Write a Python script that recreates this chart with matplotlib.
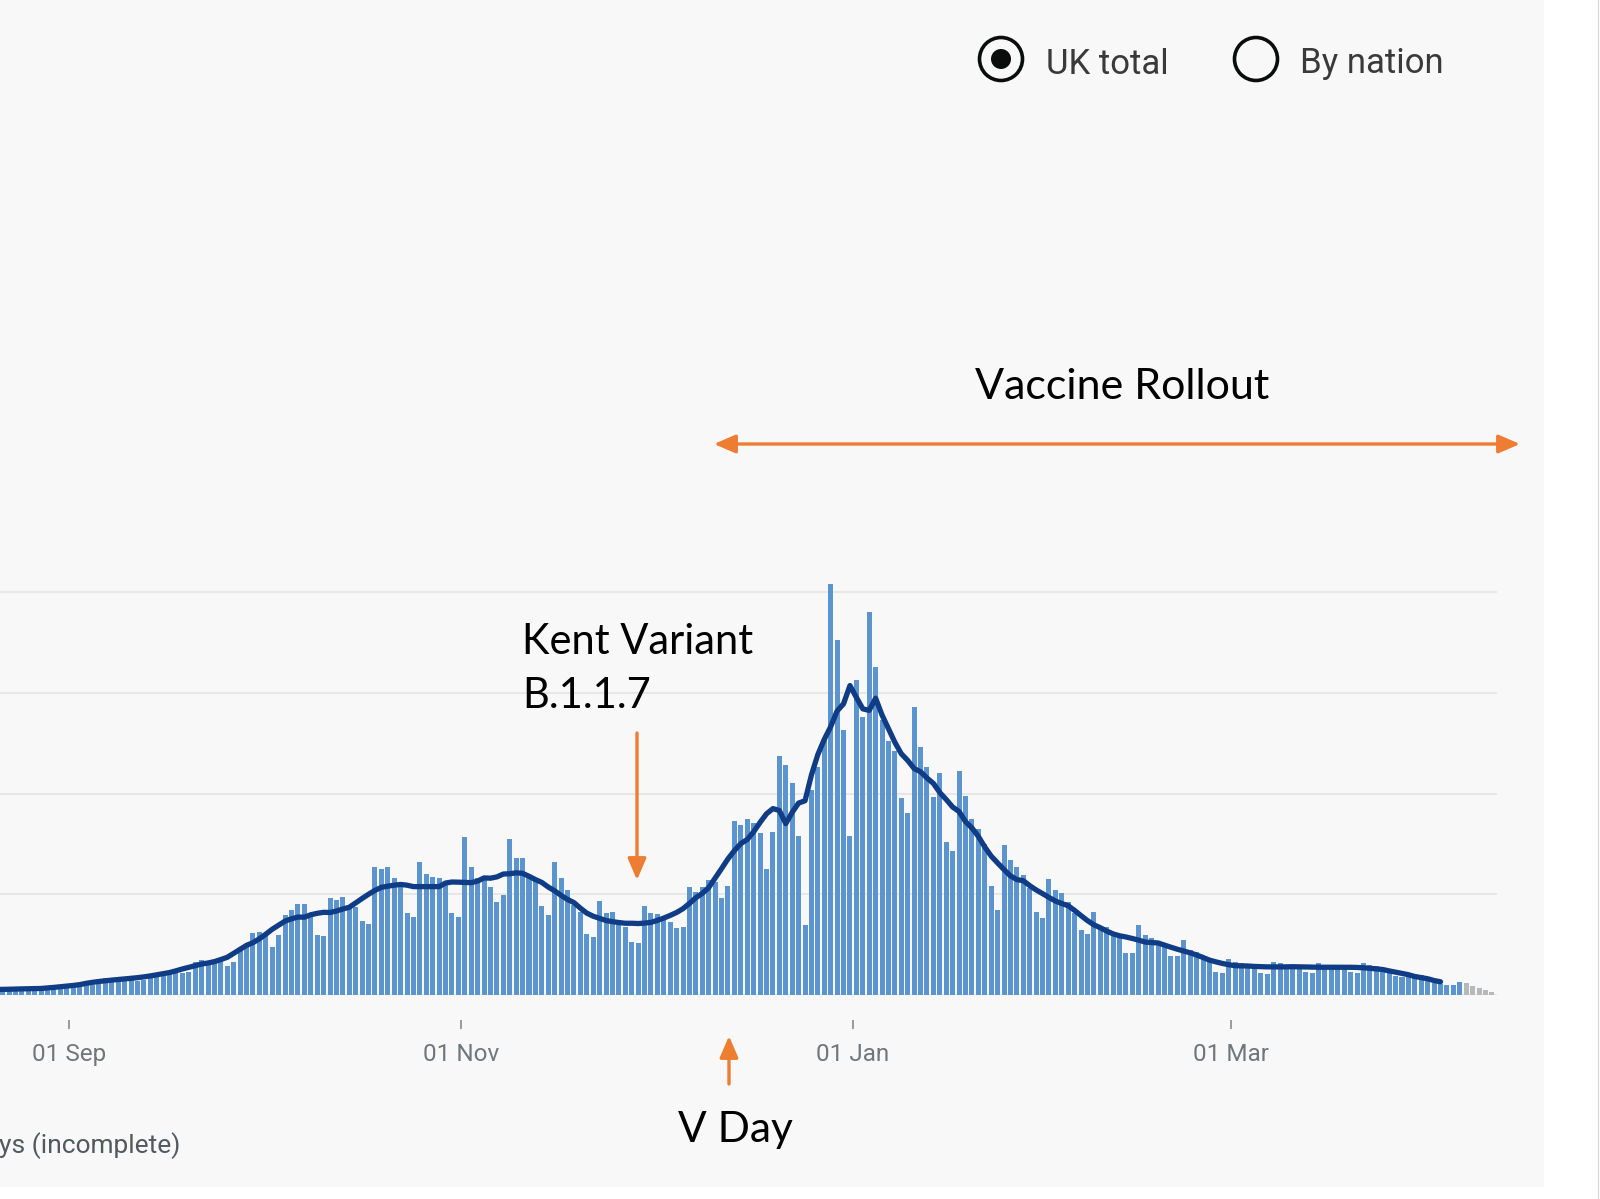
import numpy as np
import pandas as pd
import matplotlib
matplotlib.use("Agg")
import matplotlib.pyplot as plt
import matplotlib.dates as mdates
from matplotlib.patches import Rectangle, Circle, FancyArrowPatch

# ---------------- data (daily values) ----------------
start_date = "2020-08-18"
daily_cases = [
    1200, 1200, 1100,
    1100, 900, 900, 1300, 1300, 1400, 1400, 1300, 1100, 1100, 1500,
    2000, 2200, 2300, 2200, 2000, 2200,
    3300, 3400, 3400, 3300, 3100, 2800, 3000,
    4200, 4300, 4500, 4600, 4700, 4300, 4600,
    6600, 6900, 6800, 7000, 6800, 5800, 6500,
    9500, 10000, 12400, 12500, 12300, 9500, 11900,
    15900, 16900, 18100, 18100, 15500, 11900, 11700,
    19300, 18900, 19500, 17900, 17500, 14700, 14100,
    25400, 25000, 25400, 23200, 21800, 16300, 15500,
    26400, 24000, 23400, 23200, 21800, 16300, 15500,
    31400, 25400, 23200, 22800, 21500, 18500, 19900,
    31000, 27200, 27200, 23200, 22800, 17700, 15900,
    26400, 23200, 20800, 17900, 16500, 12100, 11500,
    18700, 16300, 16500, 14900, 13500, 10500, 10300,
    17700, 16300, 16100, 15500, 14500, 13300, 13500,
    21400, 20400, 21400, 22800, 22400, 19300, 21600,
    34500, 33700, 34900, 34200, 32200, 25000, 32400,
    47400, 45700, 42100, 31600, 13900, 40700, 45300,
    50600, 81600, 70500, 52600, 31600, 62500, 55200,
    76000, 65100, 54600, 50500, 48500, 39100, 36100,
    57200, 49200, 45300, 39300, 44000, 30400, 28600,
    44500, 39500, 34900, 33000, 30000, 21600, 16900,
    29800, 26800, 25400, 23800, 21200, 16500, 15300,
    23000, 20800, 20300, 18500, 16200, 13000, 12200,
    16500, 13600, 13400, 12600, 12200, 8300, 8300,
    13900, 11900, 11300, 10300, 9500, 7700, 7700,
    10900, 9000, 8500, 7800, 7000, 4600, 4400,
    7200, 6600, 6300, 6000, 5600, 4400, 4200,
    6600, 6300, 6000, 5900, 5600, 4600, 4300,
    6400, 6000, 5900, 5800, 5600, 4600, 4400,
    6300, 5900, 5700, 5300, 4900, 3800, 3500,
    4400, 4200, 3900, 3500, 2400, 2200, 2000,
    1900, 2500, 2400, 1800, 1400, 1000, 600,
]
n_incomplete = 5
tick_dates = ["2020-09-01", "2020-11-01", "2021-01-01", "2021-03-01"]
tick_labels = ["01 Sep", "01 Nov", "01 Jan", "01 Mar"]
grid_values = [0, 20000, 40000, 60000, 80000]
view_start = "2020-08-21"

# ---------------- figure ----------------
W, H = 1600, 1199
fig = plt.figure(figsize=(W / 100, H / 100), dpi=100, facecolor="white")

bg = fig.add_axes([0, 0, 1, 1], zorder=0)
bg.set_xlim(0, W)
bg.set_ylim(H, 0)
bg.axis("off")
bg.add_patch(Rectangle((0, 0), 1544, 1187, facecolor="#f8f8f8", edgecolor="none"))
bg.plot([1598, 1598], [0, H], color="#dcdcdc", lw=1)

# main chart axes
ax = fig.add_axes([0, 1 - 995 / H, 1497 / W, (995 - 300) / H], zorder=1)
ax.patch.set_alpha(0)

dates = pd.date_range(start_date, periods=len(daily_cases), freq="D")
x = mdates.date2num(dates)
vals = np.array(daily_cases, dtype=float)
n_complete = len(vals) - n_incomplete

ax.bar(x[:n_complete], vals[:n_complete], width=0.78, color="#5b94cf",
       linewidth=0, zorder=2)
ax.bar(x[n_complete:], vals[n_complete:], width=0.78, color="#b6b8ba",
       linewidth=0, zorder=2)
avg = pd.Series(vals[:n_complete]).rolling(7, center=True).mean().values
ax.plot(x[:n_complete], avg, color="#0f3c85", lw=3.8, zorder=3,
        solid_capstyle="round", solid_joinstyle="round")

x0 = mdates.date2num(pd.Timestamp(view_start))
ax.set_xlim(x0 + 0.59, x0 + 233.8)
ax.set_ylim(0, 80000 * (995 - 300) / 403)

ax.set_yticks(grid_values)
ax.yaxis.grid(True, color="#e6e6e6", lw=1.3)
ax.set_axisbelow(True)
ax.tick_params(axis="y", length=0, labelleft=False)

for s in ax.spines.values():
    s.set_visible(False)
ax.spines["bottom"].set_position(("outward", 18))

ax.set_xticks([mdates.date2num(pd.Timestamp(t)) + 0.4 for t in tick_dates])
ax.set_xticklabels(tick_labels, family=["Roboto", "DejaVu Sans"])
ax.tick_params(axis="x", length=6.5, width=1.2, color="#8a8a8a", pad=10,
               labelsize=17.5, labelcolor="#6f777b")

# overlay for annotations (pixel coordinates, origin top-left)
ov = fig.add_axes([0, 0, 1, 1], zorder=3)
ov.set_xlim(0, W)
ov.set_ylim(H, 0)
ov.axis("off")
ov.patch.set_alpha(0)

orange = "#ed7d31"
afont = ["Lato", "DejaVu Sans"]
ov.text(1122, 387, "Vaccine Rollout", ha="center", va="center", fontsize=31,
        family=afont, color="black")
ov.text(522, 642, "Kent Variant", ha="left", va="center", fontsize=30,
        family=afont, color="black")
ov.text(522, 696, "B.1.1.7", ha="left", va="center", fontsize=30,
        family=afont, color="black")
ov.text(735, 1130, "V Day", ha="center", va="center", fontsize=30.5,
        family=afont, color="black")

style1 = "-|>,head_length=0.65,head_width=0.28"
style2 = "<|-|>,head_length=0.65,head_width=0.28"
for (p1, p2, st) in [((714, 444), (1520, 444), style2),
                     ((637, 733), (637, 880), style1),
                     ((729, 1084), (729, 1036), style1)]:
    ov.add_patch(FancyArrowPatch(p1, p2, arrowstyle=st, mutation_scale=20,
                                 color=orange, lw=2.4, shrinkA=0, shrinkB=0))

ov.text(-1, 1146, "ys (incomplete)", ha="left", va="center", fontsize=19,
        family=["Roboto", "DejaVu Sans"], color="#505a5f")

# radio buttons
ov.add_patch(Circle((1001, 59), 21.5, facecolor="none", edgecolor="#0b0c0c", lw=2.6))
ov.add_patch(Circle((1001, 59), 10, facecolor="#0b0c0c", edgecolor="none"))
ov.add_patch(Circle((1256, 59), 21.5, facecolor="none", edgecolor="#0b0c0c", lw=2.6))
ov.text(1046, 64, "UK total", ha="left", va="center", fontsize=25,
        family=["Roboto", "DejaVu Sans"], color="#3a3a3a")
ov.text(1300, 64, "By nation", ha="left", va="center", fontsize=25,
        family=["Roboto", "DejaVu Sans"], color="#3a3a3a")

fig.savefig("out.png", dpi=100, facecolor="white")
